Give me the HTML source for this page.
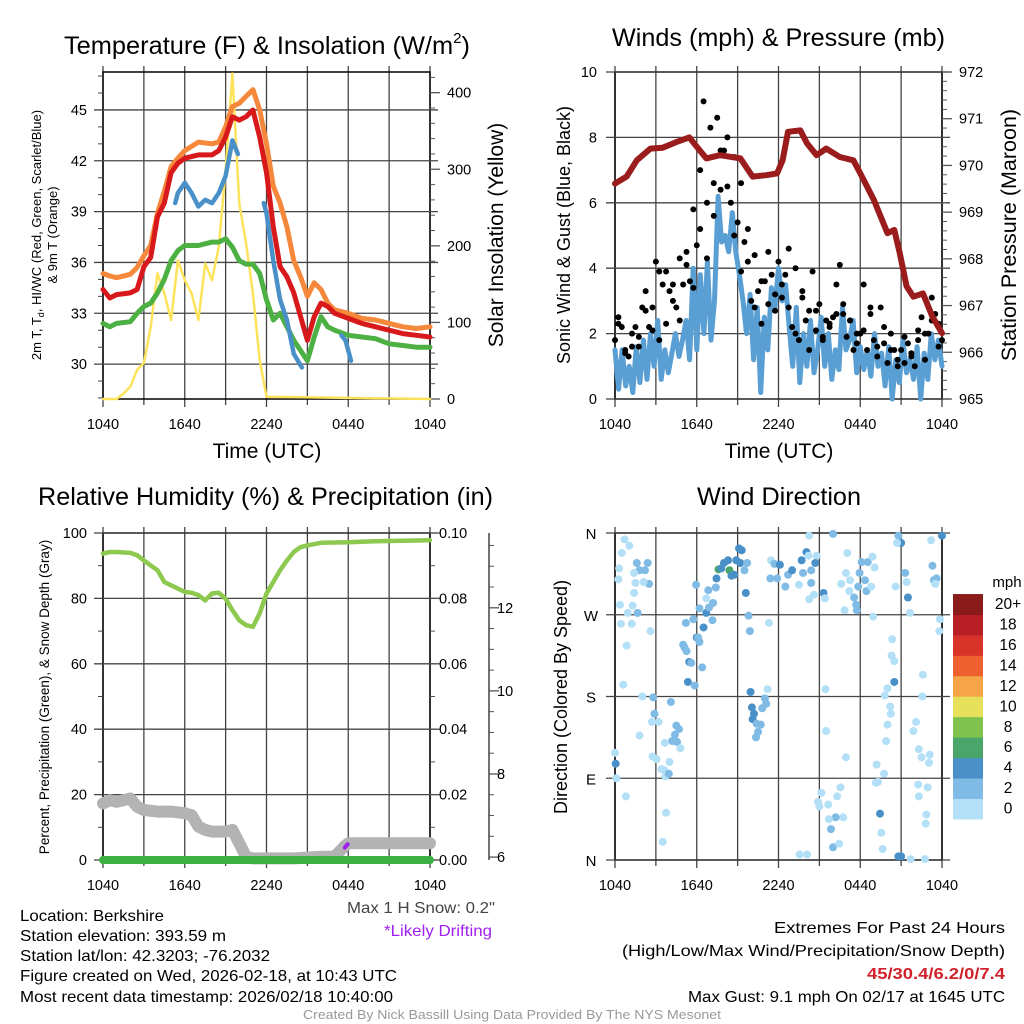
<!DOCTYPE html>
<html><head><meta charset="utf-8"><title>Berkshire Mesonet</title>
<style>
html,body{margin:0;padding:0;background:#fff;}
svg{display:block;font-family:"Liberation Sans",Arial,sans-serif;}
</style></head>
<body>
<svg id="chart" width="1024" height="1024" viewBox="0 0 1024 1024" xmlns="http://www.w3.org/2000/svg">
<rect width="1024" height="1024" fill="#fff"/>
<text x="64" y="54" font-size="25" textLength="406" lengthAdjust="spacingAndGlyphs">Temperature (F) &amp; Insolation (W/m<tspan font-size="15" dy="-11">2</tspan><tspan dy="11">)</tspan></text>
<text x="612" y="46" font-size="25" textLength="333" lengthAdjust="spacingAndGlyphs">Winds (mph) &amp; Pressure (mb)</text>
<text x="38" y="505" font-size="25" textLength="455" lengthAdjust="spacingAndGlyphs">Relative Humidity (%) &amp; Precipitation (in)</text>
<text x="697" y="505" font-size="25" textLength="164" lengthAdjust="spacingAndGlyphs">Wind Direction</text>

<text x="267" y="458" font-size="21" text-anchor="middle">Time (UTC)</text>
<text x="779" y="458" font-size="21" text-anchor="middle">Time (UTC)</text>

<text font-size="13" text-anchor="middle" transform="translate(41,235) rotate(-90)">2m T, T<tspan font-size="9" dy="3">d</tspan><tspan dy="-3">, HI/WC (Red, Green, Scarlet/Blue)</tspan></text>
<text font-size="13" text-anchor="middle" transform="translate(57,235) rotate(-90)">&amp; 9m T (Orange)</text>
<text font-size="21" text-anchor="middle" transform="translate(503,235) rotate(-90)">Solar Insolation (Yellow)</text>
<text font-size="18" text-anchor="middle" transform="translate(570,235) rotate(-90)">Sonic Wind &amp; Gust (Blue, Black)</text>
<text font-size="21.5" text-anchor="middle" transform="translate(1016,235) rotate(-90)">Station Pressure (Maroon)</text>
<text font-size="13.5" text-anchor="middle" transform="translate(49,697) rotate(-90)">Percent, Precipitation (Green), &amp; Snow Depth (Gray)</text>
<text font-size="18" text-anchor="middle" transform="translate(567,697) rotate(-90)">Direction (Colored By Speed)</text>

<text x="347" y="913" font-size="16" fill="#444" textLength="148" lengthAdjust="spacingAndGlyphs">Max 1 H Snow: 0.2"</text>
<text x="384" y="936" font-size="16" fill="#a020f0" textLength="108" lengthAdjust="spacingAndGlyphs">*Likely Drifting</text>

<g font-size="16">
<text x="20" y="921" textLength="144" lengthAdjust="spacingAndGlyphs">Location: Berkshire</text>
<text x="20" y="941" textLength="206" lengthAdjust="spacingAndGlyphs">Station elevation: 393.59 m</text>
<text x="20" y="961" textLength="250" lengthAdjust="spacingAndGlyphs">Station lat/lon: 42.3203; -76.2032</text>
<text x="20" y="981" textLength="377" lengthAdjust="spacingAndGlyphs">Figure created on Wed, 2026-02-18, at 10:43 UTC</text>
<text x="20" y="1002" textLength="373" lengthAdjust="spacingAndGlyphs">Most recent data timestamp: 2026/02/18 10:40:00</text>
</g>
<g font-size="16">
<text x="774" y="933" textLength="231" lengthAdjust="spacingAndGlyphs">Extremes For Past 24 Hours</text>
<text x="622" y="956" textLength="383" lengthAdjust="spacingAndGlyphs">(High/Low/Max Wind/Precipitation/Snow Depth)</text>
<text x="867" y="979" fill="#d0222b" font-weight="bold" textLength="138" lengthAdjust="spacingAndGlyphs">45/30.4/6.2/0/7.4</text>
<text x="688" y="1002" textLength="317" lengthAdjust="spacingAndGlyphs">Max Gust: 9.1 mph On 02/17 at 1645 UTC</text>
</g>
<text x="303" y="1019" font-size="12.5" fill="#999" textLength="418" lengthAdjust="spacingAndGlyphs">Created By Nick Bassill Using Data Provided By The NYS Mesonet</text>
</svg>

<script>
// ---------- data ----------
const timeTickLabels = ["1040","1640","2240","0440","1040"];
const tHours = [0,0.5,1,2,2.5,3,3.5,4,4.5,5,5.5,6,7,8,8.5,9,9.5,10,10.5,11,11.5,12,12.5,13,13.5,14,14.5,15,15.5,16,16.5,17,18,19,20,21,22,23,24];
const temp9m = [35.35,35.2,35.1,35.3,35.7,36.4,37.0,38.9,40.2,41.65,42.15,42.6,43.1,43.0,43.1,44.0,45.2,45.4,45.8,46.2,45.0,43.0,40.5,39.5,38.1,36.1,35.15,34.0,34.8,34.4,33.6,33.2,33.0,32.7,32.6,32.4,32.2,32.1,32.2];
const temp2m = [34.4,33.9,34.1,34.2,34.4,35.75,36.3,38.7,39.5,41.3,41.85,42.15,42.35,42.35,42.6,43.4,44.6,44.4,44.6,45.0,43.4,41.3,38.1,35.75,35.15,34.2,32.8,31.4,32.8,33.6,33.4,33.0,32.7,32.4,32.2,32.0,31.8,31.7,31.6];
const dewpoint = [32.4,32.2,32.4,32.5,33.0,33.4,33.6,34.2,35.0,36.1,36.7,37.0,37.0,37.2,37.2,37.4,36.9,36.1,35.9,35.9,35.35,33.8,32.6,33.0,32.2,31.4,30.8,30.2,31.6,32.8,32.2,32.0,31.7,31.6,31.5,31.2,31.1,31.0,31.0];
const hiwcHours = [5.3,5.5,6,6.5,7,7.5,8,8.5,9,9.5,9.9,null,11.8,12,12.5,13,13.5,14,14.6,null,17.5,17.8,18.2];
const hiwcVals = [39.5,40.1,40.7,40.1,39.3,39.7,39.5,40.1,41.1,43.2,42.4,null,39.5,38.9,36.1,33.8,32.6,30.6,29.8,null,31.7,31.4,30.2];
const solarHours = [0,1,1.5,2,2.5,3,3.5,4,4.5,5,5.5,6,6.5,7,7.5,8,8.5,9,9.5,10,10.5,11,11.5,12,24];
const solarVals = [0,0,7,16,38,47,94,164,138,103,181,155,138,103,177,155,199,299,425,255,203,138,51,3,0];

const windVals = [1.5,0.3,1.5,0.4,1.0,0.2,1.6,0.5,1.8,0.6,2.0,1.0,2.4,0.6,1.5,0.8,1.4,2.0,1.3,1.8,2.4,1.2,4.0,1.5,3.8,2.0,4.2,1.8,3.0,6.2,4.8,5.0,4.5,5.7,4.5,3.8,3.0,2.0,3.2,1.2,2.8,0.2,2.5,1.5,3.4,2.8,4.0,3.0,3.5,2.2,1.0,2.8,0.5,2.0,1.0,2.4,0.8,1.5,2.5,1.0,2.0,0.6,1.5,0.9,2.8,1.5,1.8,2.4,0.8,1.6,0.9,1.5,0.7,2.0,1.0,1.4,0.4,1.6,0.0,1.2,0.5,1.8,0.8,1.2,0.6,1.6,0.0,1.4,0.6,2.0,1.2,1.8,1.0];
const gustVals = [1.8,2.5,2.2,1.5,1.3,1.6,2.2,1.9,2.8,3.3,2.2,2.8,4.2,1.8,3.5,3.9,3.3,3.5,2.8,4.3,3.5,4.1,3.6,5.8,4.7,7.0,9.1,6.0,8.3,6.6,8.6,6.4,7.6,8.0,6.0,5.0,5.4,3.9,4.8,4.2,3.0,2.8,3.3,2.3,3.6,4.5,3.8,3.2,4.2,3.5,3.8,2.8,2.2,2.0,1.8,3.1,2.4,1.5,3.9,2.7,2.9,1.8,2.4,2.2,2.5,3.5,4.1,2.6,1.9,2.4,1.5,1.7,2.0,2.1,1.5,2.6,1.8,1.3,2.8,1.7,1.1,2.0,1.5,1.0,1.5,1.1,1.7,1.3,1.0,1.8,2.5,1.2,2.0,3.1,2.6,2.3,1.8];
const gustVals2 = [2.3,1.4,2.0,1.6,2.7,2.1,3.9,2.3,3.0,2.4,4.5,3.4,5.2,4.3,5.6,7.6,6.5,7.4,6.6,5.2,4.4,3.6,2.9,2.7,3.1,4.6,4.0,3.3,2.7,2.1,1.9,2.3,2.6,2.9,2.4,2.0,3.5,2.8,1.6,2.2,1.5,1.2,1.9,1.4,2.1,2.0,2.4,1.6];
const presHours = [0,0.85,1.6,2.6,3.5,4.5,5.45,6,6.7,7.7,9.2,10.1,11.1,11.9,12.3,12.7,13.6,14.1,14.8,15.5,16.5,17.5,18,19,20,20.5,20.9,21.4,21.9,22.6,23.3,24];
const presVals = [969.61,969.76,970.11,970.36,970.38,970.50,970.60,970.40,970.15,970.22,970.15,969.76,969.79,969.83,970.11,970.72,970.75,970.47,970.22,970.36,970.18,970.11,969.83,969.26,968.55,968.62,968.12,967.41,967.19,967.26,966.76,966.41];

const rhHours = [0,0.5,1,2,2.5,3,3.5,4,4.5,5,5.5,6,6.5,7,7.5,8,8.5,9,9.5,10,10.5,11,11.5,12,12.5,13,13.5,14,14.5,15,16,18,20,24];
const rhVals = [93.7,94.2,94.2,93.9,93.2,91.6,90.1,88.6,85.0,84.0,83.0,82.0,81.7,81.0,79.4,81.5,81.7,79.9,76.4,73.3,71.8,71.3,75.4,81.5,85.0,88.6,91.6,94.2,95.7,96.2,97.0,97.2,97.5,97.8];
const snowHours = [0,0.5,1,1.5,2,2.5,3,4,5,6,6.5,7,7.5,8,9,9.5,10,10.5,11,14,16,17,17.7,18,24];
const snowVals = [17.3,18.3,17.8,18.3,18.8,16.3,15.3,14.8,14.8,14.3,13.7,10.2,9.2,8.7,8.7,9.2,5.1,1.0,0.5,0.5,1.0,1.0,4.1,5.1,5.1];
const precipHours = [0,24];
const precipVals = [0,0];
const driftHours = [17.75,17.95];
const driftVals = [3.8,4.8];

const dirHours = [0.7,1.05,0.5,0.3,0.25,0.37,0.44,0.93,1.22,1.3,1.4,0.86,0.6,0,0.05,0.1,0.8,1.6,1.8,2.2,2.4,2.5,1.5,1.66,2.6,1.4,2.1,
2,1.8,2.8,2.9,2.7,3.2,2.75,3.05,3.4,3.6,3.7,3.95,4.0,3.75,3.5,4.1,4.5,4.7,4.4,4.2,4.55,4.8,3.65,
5.0,5.1,5.25,5.2,5.45,5.6,5.35,5.85,6.4,6.0,6.2,6.1,5.75,6.5,6.2,6.7,6.9,7.15,6.7,7.2,5.95,6.85,7.4,7.45,7.6,7.8,8.0,8.3,8.4,8.55,8.75,8.9,9.1,9.3,9.2,9.5,9.7,9.6,9.8,9.9,9.95,10.05,10.2,10.1,10.4,10.7,10.5,10.35,10.8,11.0,11.1,11.2,11.3,11.45,
11.7,12.1,11.4,11.9,12.5,12.7,13.0,13.5,13.7,13.8,14.05,14.2,14.4,14.4,14.6,14.25,14.8,14.7,15.3,15.4,16.0,15.45,15.5,15.15,14.9,15.0,15.65,16.3,16.55,16.75,16.2,15.7,15.85,16.0,16.45,13.55,14.1,14.25,
17.05,16.95,16.6,16.95,17.25,17.2,16.85,17.55,17.7,17.75,17.85,17.95,18.1,18.55,18.35,18.45,18.8,18.9,19.05,18.95,19.8,20.0,20.2,20.25,20.0,19.9,19.2,19.75,19.15,19.3,19.45,19.55,19.65,20.3,20.5,20.5,20.35,20.6,20.8,21.0,20.7,21.3,21.4,21.5,21.65,20.8,21.0,21.7,22.75,22.6,22.55,22.1,21.9,22.3,22.5,23.1,23.05,22.25,22.95,22.3,22.85,22.8,23.2,23.3,23.4,23.6,23.5,24.0,23.85,23.8];
const dirDeg = [353,346,338,321,309,281,260,272,260,280,294,236,193,118,106,90,70,327,319,319,327,304,305,272,252,316,306,
180,137,179,161,152,152,114,111,100,99,92,95,108,52,20,174,148,144,138,131,130,123,129,
237,234,230,261,218,217,196,192,212,245,240,245,265,256,277,272,278,264,288,283,303,297,300,310,320,321,327,330,319,313,314,330,343,341,327,319,327,294,269,252,185,168,161,155,150,149,141,135,167,178,172,188,261,330,
326,325,310,310,301,314,319,303,330,316,339,335,319,305,292,287,335,327,294,288,359,188,142,74,64,59,61,70,80,47,47,45,34,14,18,6,6,357,
338,113,304,316,308,296,275,289,281,275,301,316,328,328,308,296,301,334,322,268,181,189,169,161,149,131,105,95,85,86,51,30,12,225,219,196,243,301,357,349,349,316,306,289,272,4,4,1,1,204,180,152,142,122,113,116,107,83,80,70,50,40,352,324,308,310,304,357,265,252];
const dirSpeed = [1,1,1,1,1,1,1,1,1,1,1,1,1,1,5,1,1,3,3,3,3,3,1,3,1,1,1,
1,1,3,3,1,1,1,1,1,1,1,3,1,1,1,3,3,3,3,3,3,1,1,
3,3,3,3,5,3,5,3,3,5,3,3,3,5,3,5,3,3,1,3,3,3,3,5,7,5,5,5,7,5,5,5,5,5,5,3,3,5,3,3,5,5,5,5,3,3,3,3,3,3,3,1,1,1,
3,5,3,3,3,3,5,1,5,3,5,1,3,3,1,1,1,5,5,1,3,1,1,1,1,1,1,1,1,1,3,1,3,3,1,1,1,1,
1,1,1,1,1,1,1,3,3,3,3,3,3,3,3,3,1,1,1,1,1,1,1,1,1,1,1,1,1,1,5,1,1,1,1,5,1,1,3,5,1,3,1,5,1,5,5,1,1,1,1,1,1,1,1,1,1,1,1,1,1,1,1,3,3,3,1,5,1,1];
const speedBins = ["0","2","4","6","8","10","12","14","16","18","20+"];
const speedColors = ["#b3e0f7","#7fbbe4","#4a90c8","#4aa56a","#7fc24d","#e6e05a","#f5a547","#ee6030","#d9342a","#b81f25","#8b1a1a"];

// ---------- helpers ----------
const NS = 'http://www.w3.org/2000/svg';
const svg = document.getElementById('chart');
function mk(tag, attrs, parent) {
  const e = document.createElementNS(NS, tag);
  for (const k in attrs) e.setAttribute(k, attrs[k]);
  (parent || svg).appendChild(e);
  return e;
}
const P1 = {x0:103,x1:430,y0:72,y1:399};
const P2 = {x0:615,x1:942,y0:72,y1:399};
const P3 = {x0:103,x1:430,y0:533,y1:860};
const P4 = {x0:615,x1:942,y0:533,y1:860};
function xs(p, h) { return p.x0 + h / 24 * (p.x1 - p.x0); }
function ys(p, v, lo, hi) { return p.y1 - (v - lo) / (hi - lo) * (p.y1 - p.y0); }
function pathFrom(p, hrs, vals, lo, hi) {
  let d = '', pen = false;
  for (let i = 0; i < hrs.length; i++) {
    if (hrs[i] === null || vals[i] === null) { pen = false; continue; }
    d += (pen ? 'L' : 'M') + xs(p, hrs[i]).toFixed(1) + ',' + ys(p, vals[i], lo, hi).toFixed(1);
    pen = true;
  }
  return d;
}

function frame(p, key) {
  const g = mk('g', {});
  
  
  for (let i = 0; i <= 8; i++) {
    const x = xs(p, i * 3);
    const l = mk('line', {x1:x, x2:x, y1:p.y0 - 6, y2:p.y1 + (i % 2 ? 6 : 8), stroke:'#444', 'stroke-width':1.3}, g);
    
    
  }
  for (let i = 0; i < timeTickLabels.length; i++) {
    const t = mk('text', {x:xs(p, i * 6), y:p.y1 + 30, 'font-size':14.5, 'text-anchor':'middle'}, g);
    t.textContent = timeTickLabels[i];
    
    
  }
  const r = mk('rect', {x:p.x0, y:p.y0, width:p.x1 - p.x0, height:p.y1 - p.y0, fill:'none', stroke:'#000', 'stroke-width':1.5}, g);
  
  
  return g;
}
function leftAxis(p, g, key, lo, hi, major, minor, fmt, labelX) {
  for (let v = lo; v <= hi + 1e-9; v += minor) {
    const y = ys(p, v, p.lo, p.hi);
    if (y < p.y0 - 0.5 || y > p.y1 + 0.5) continue;
    const isMajor = Math.abs(v / major - Math.round(v / major)) < 1e-6;
    const l = mk('line', {x1:p.x0 - (isMajor ? 9 : 5), x2:isMajor ? p.x1 + 8 : p.x0, y1:y, y2:y, stroke:'#444', 'stroke-width':isMajor ? 1.3 : 1}, g);
    
    
    if (isMajor) {
      const t = mk('text', {x:labelX, y:y + 5, 'font-size':14.5, 'text-anchor':'end'}, g);
      t.textContent = fmt(v);
      
      
    }
  }
}
function rightAxis(p, g, key, lo, hi, rlo, rhi, major, minor, fmt, labelX, axisX) {
  for (let v = lo; v <= hi + 1e-9; v += minor) {
    const y = ys(p, v, rlo, rhi);
    if (y < p.y0 - 0.5 || y > p.y1 + 0.5) continue;
    const isMajor = Math.abs(v / major - Math.round(v / major)) < 1e-6;
    const l = mk('line', {x1:axisX, x2:axisX + (isMajor ? 10 : 5), y1:y, y2:y, stroke:'#555', 'stroke-width':isMajor ? 1.3 : 1}, g);
    
    
    if (isMajor) {
      const t = mk('text', {x:labelX, y:y + 5, 'font-size':14.5}, g);
      t.textContent = fmt(v);
      
      
    }
  }
}
function line(p, hrs, vals, lo, hi, color, w) {
  return mk('path', {d:pathFrom(p, hrs, vals, lo, hi), fill:'none', stroke:color, 'stroke-width':w, 'stroke-linejoin':'round', 'stroke-linecap':'round'});
}

// ---------- panel 1 ----------
P1.lo = 27.94; P1.hi = 47.24;
const g1 = frame(P1, 'temp');
leftAxis(P1, g1, 'temp-y', 28, 47, 3, 1, v => v.toFixed(0), 87);
rightAxis(P1, g1, 'solar-y', 0, 420, 0, 427, 100, 20, v => v.toFixed(0), 447, P1.x1);
let s;
s = line(P1, solarHours, solarVals, 0, 427, '#fde35c', 2.5);


s = line(P1, tHours, temp9m, P1.lo, P1.hi, '#f5883a', 5);


s = line(P1, tHours, dewpoint, P1.lo, P1.hi, '#4cb043', 5);


s = line(P1, hiwcHours, hiwcVals, P1.lo, P1.hi, '#4a90c8', 4.5);


s = line(P1, tHours, temp2m, P1.lo, P1.hi, '#d7191c', 5);



// ---------- panel 2 ----------
P2.lo = 0; P2.hi = 10;
const g2 = frame(P2, 'wind');
leftAxis(P2, g2, 'wind-y', 0, 10, 2, 2, v => v.toFixed(0), 597);
rightAxis(P2, g2, 'pressure-y', 965, 972, 965, 972, 1, 0.2, v => v.toFixed(0), 959, P2.x1);
const windHours = windVals.map((v, i) => i * 24 / (windVals.length - 1));
s = line(P2, windHours, windVals, 0, 10, '#5a9fd4', 5);


for (let i = 0; i < gustVals.length; i++) {
  const c = mk('circle', {cx:xs(P2, i * 24 / (gustVals.length - 1)), cy:ys(P2, gustVals[i], 0, 10), r:3, fill:'#000'});
  
  
}
for (let i = 0; i < gustVals2.length; i++) {
  const c = mk('circle', {cx:xs(P2, 0.25 + i * 23.5 / (gustVals2.length - 1)), cy:ys(P2, gustVals2[i], 0, 10), r:3, fill:'#000'});
  
  
}
s = line(P2, presHours, presVals, 965, 972, '#9a1c1c', 6);



// ---------- panel 3 ----------
P3.lo = 0; P3.hi = 100;
const g3 = frame(P3, 'humidity');
leftAxis(P3, g3, 'humidity-y', 0, 100, 20, 10, v => v.toFixed(0), 87);
rightAxis(P3, g3, 'precip-y', 0, 0.1, 0, 0.1, 0.02, 0.01, v => v.toFixed(2), 439, P3.x1);
const snowAxis = mk('line', {x1:489, x2:489, y1:P3.y0, y2:P3.y1, stroke:'#444', 'stroke-width':1.5});


rightAxis(P3, g3, 'snow-depth-y', 6, 13.5, 5.93, 13.8, 2, 0.5, v => v.toFixed(0), 497, 489);
s = line(P3, snowHours, snowVals, 0, 100, '#b3b3b3', 12);


s = line(P3, precipHours, precipVals, 0, 100, '#3cb043', 8);


s = line(P3, rhHours, rhVals, 0, 100, '#8dc84f', 4.5);


s = line(P3, driftHours, driftVals, 0, 100, '#a020f0', 4);



// ---------- panel 4 ----------
P4.lo = 0; P4.hi = 360;
const g4 = frame(P4, 'direction');
const dirLabels = ["N","E","S","W","N"];
for (let i = 0; i < 5; i++) {
  const y = ys(P4, i * 90, 0, 360);
  const l = mk('line', {x1:P4.x0 - 9, x2:P4.x1 + 8, y1:y, y2:y, stroke:'#444', 'stroke-width':1.3}, g4);
  
  
  const t = mk('text', {x:591, y:y + 6, 'font-size':15, 'text-anchor':'middle'}, g4);
  t.textContent = dirLabels[i];
  
  
}
function speedColor(v) { if (v === undefined) v = 1; return speedColors[Math.min(10, Math.floor(v / 2))]; }
for (let i = 0; i < dirHours.length; i++) {
  const c = mk('circle', {cx:xs(P4, dirHours[i]), cy:ys(P4, dirDeg[i], 0, 360), r:4, fill:speedColor(dirSpeed[i])});
  
  
}
const cbTitle = mk('text', {x:1007, y:587, 'font-size':15, 'text-anchor':'middle'});
cbTitle.textContent = 'mph';


for (let i = 0; i < speedBins.length; i++) {
  const y = 819 - (i + 1) * 20.45;
  const r = mk('rect', {x:953, y:y, width:30, height:20.9, fill:speedColors[i]});
  
  
  const t = mk('text', {x:1008, y:y + 15, 'font-size':15.5, 'text-anchor':'middle'});
  t.textContent = speedBins[i];
  
  
}
</script>
</body></html>
